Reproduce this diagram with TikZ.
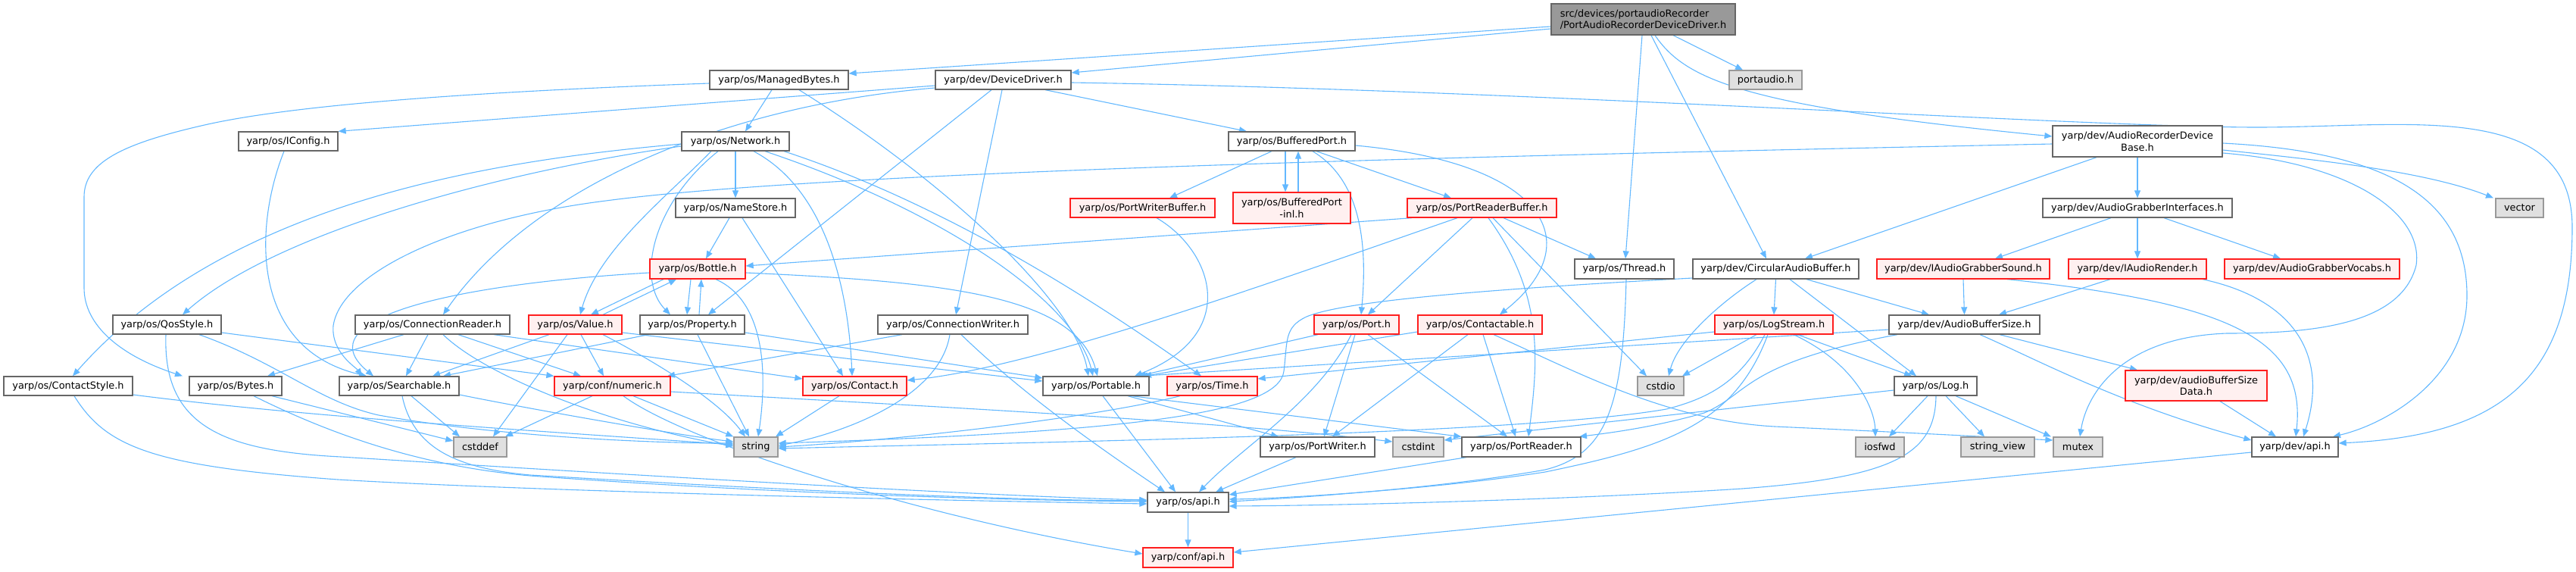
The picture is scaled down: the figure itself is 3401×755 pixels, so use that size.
\documentclass[tikz,border=0pt]{standalone}
\usepackage{fontspec}
\setmainfont{DejaVu Sans}
\usetikzlibrary{arrows.meta,calc}
\definecolor{edgec}{RGB}{99,184,255}
\definecolor{nodeb}{RGB}{102,102,102}
\definecolor{redb}{RGB}{255,30,30}
\definecolor{redfill}{RGB}{255,240,240}
\definecolor{grayb}{RGB}{153,153,153}
\definecolor{grayfill}{RGB}{224,224,224}
\definecolor{rootfill}{RGB}{153,153,153}
\pgfdeclarelayer{bg}
\pgfsetlayers{bg,main}
\newcommand\mknode[7]{\node[#6, minimum width={(#4-#2)*0.5pt}, minimum height={(#5-#3)*0.5pt}] (#1) at ({(#2+#4)/2},{(#3+#5)/2}) {#7};}
\tikzset{
  base/.style={rectangle, inner sep=0pt, line width=0.65pt, font=\fontsize{6.45pt}{7.8pt}\selectfont, align=center},
  nb/.style={base, draw=nodeb, fill=white},
  nr/.style={base, draw=redb, fill=redfill},
  ng/.style={base, draw=grayb, fill=grayfill},
  nroot/.style={base, draw=nodeb, fill=rootfill},
  e/.style={draw=edgec, line width=0.55pt, -{Triangle[length=5pt,width=4pt]}}
}
\begin{document}
\begin{tikzpicture}[x=0.5pt,y=-0.5pt]
\useasboundingbox (0,0) rectangle (3401,755);
% nodes
\mknode{root}{2048}{5}{2291}{46}{nroot,align=left}{src/devices/portaudioRecorder\\/PortAudioRecorderDeviceDriver.h}
\mknode{MB}{937}{93}{1120}{118}{nb}{yarp/os/ManagedBytes.h}
\mknode{DD}{1235}{93}{1414}{118}{nb}{yarp/dev/DeviceDriver.h}
\mknode{pa}{2283}{93}{2379}{118}{ng}{portaudio.h}
\mknode{IConfig}{315}{174}{446}{199}{nb}{yarp/os/IConfig.h}
\mknode{Net}{900}{174}{1042}{199}{nb}{yarp/os/Network.h}
\mknode{BP}{1622}{174}{1789}{199}{nb}{yarp/os/BufferedPort.h}
\mknode{ARDB}{2710}{166}{2934}{207}{nb}{yarp/dev/AudioRecorderDevice\\Base.h}
\mknode{NS}{892}{262}{1050}{287}{nb}{yarp/os/NameStore.h}
\mknode{PWB}{1413}{262}{1604}{287}{nr}{yarp/os/PortWriterBuffer.h}
\mknode{BPinl}{1628}{254}{1783}{295}{nr}{yarp/os/BufferedPort\\-inl.h}
\mknode{PRB}{1858}{262}{2055}{287}{nr}{yarp/os/PortReaderBuffer.h}
\mknode{AGI}{2697}{262}{2947}{287}{nb}{yarp/dev/AudioGrabberInterfaces.h}
\mknode{vec}{3295}{262}{3358}{287}{ng}{vector}
\mknode{Bottle}{858}{342}{984}{368}{nr}{yarp/os/Bottle.h}
\mknode{Thread}{2079}{342}{2210}{368}{nb}{yarp/os/Thread.h}
\mknode{CAB}{2235}{342}{2454}{368}{nb}{yarp/dev/CircularAudioBuffer.h}
\mknode{IAGS}{2478}{342}{2706}{368}{nr}{yarp/dev/IAudioGrabberSound.h}
\mknode{IAR}{2731}{342}{2913}{368}{nr}{yarp/dev/IAudioRender.h}
\mknode{AGV}{2937}{342}{3168}{368}{nr}{yarp/dev/AudioGrabberVocabs.h}
\mknode{Qos}{149}{416}{292}{441}{nb}{yarp/os/QosStyle.h}
\mknode{CR}{469}{416}{673}{441}{nb}{yarp/os/ConnectionReader.h}
\mknode{Value}{698}{416}{821}{441}{nr}{yarp/os/Value.h}
\mknode{Prop}{845}{416}{983}{441}{nb}{yarp/os/Property.h}
\mknode{CW}{1159}{416}{1357}{441}{nb}{yarp/os/ConnectionWriter.h}
\mknode{Port}{1735}{416}{1847}{441}{nr}{yarp/os/Port.h}
\mknode{Ctble}{1872}{416}{2036}{441}{nr}{yarp/os/Contactable.h}
\mknode{LS}{2264}{416}{2420}{441}{nr}{yarp/os/LogStream.h}
\mknode{ABS}{2494}{416}{2693}{441}{nb}{yarp/dev/AudioBufferSize.h}
\mknode{CS}{5}{497}{175}{522}{nb}{yarp/os/ContactStyle.h}
\mknode{Bytes}{250}{497}{372}{522}{nb}{yarp/os/Bytes.h}
\mknode{Search}{448}{497}{606}{522}{nb}{yarp/os/Searchable.h}
\mknode{num}{732}{497}{885}{522}{nr}{yarp/conf/numeric.h}
\mknode{Contact}{1060}{497}{1197}{522}{nr}{yarp/os/Contact.h}
\mknode{Portable}{1377}{497}{1517}{522}{nb}{yarp/os/Portable.h}
\mknode{Time}{1541}{497}{1660}{522}{nr}{yarp/os/Time.h}
\mknode{cstdio}{2162}{497}{2223}{522}{ng}{cstdio}
\mknode{Log}{2501}{497}{2610}{522}{nb}{yarp/os/Log.h}
\mknode{ABSD}{2806}{489}{2993}{529}{nr}{yarp/dev/audioBufferSize\\Data.h}
\mknode{cstddef}{599}{577}{669}{603}{ng}{cstddef}
\mknode{string}{969}{577}{1027}{603}{ng}{string}
\mknode{PW}{1664}{577}{1815}{603}{nb}{yarp/os/PortWriter.h}
\mknode{cstdint}{1839}{577}{1906}{603}{ng}{cstdint}
\mknode{PR}{1930}{577}{2087}{603}{nb}{yarp/os/PortReader.h}
\mknode{iosfwd}{2450}{577}{2514}{603}{ng}{iosfwd}
\mknode{sv}{2589}{577}{2686}{603}{ng}{string\_view}
\mknode{mutex}{2711}{577}{2776}{603}{ng}{mutex}
\mknode{devapi}{2973}{577}{3087}{603}{nb}{yarp/dev/api.h}
\mknode{osapi}{1515}{650}{1622}{676}{nb}{yarp/os/api.h}
\mknode{confapi}{1509}{723}{1628}{749}{nr}{yarp/conf/api.h}
\begin{pgfonlayer}{bg}
% root
\draw[e] (root.west |- 0,35) -- (MB.east |- 0,97);
\draw[e] (root.west |- 0,38) -- (DD.east |- 0,96);
\draw[e] (2209,0 |- root.south) -- (2301,0 |- pa.north);
\draw[e] (2168,0 |- root.south) -- (2146,0 |- Thread.north);
\draw[e] (2180,0 |- root.south) -- (2332,0 |- CAB.north);
\draw[e] (2185,0 |- root.south) .. controls (2225,105) and (2300,140) .. (ARDB.west |- 0,180);
% ManagedBytes
\draw[e] (1019,0 |- MB.south) -- (984,0 |- Net.north);
\draw[e] (MB.west |- 0,110) .. controls (600,122) and (380,140) .. (270,165) .. controls (160,190) and (111,215) .. (111,260) -- (111,380) .. controls (111,430) and (160,470) .. (241,0 |- Bytes.north);
\draw[e] (1055,0 |- MB.south) .. controls (1250,240) and (1420,400) .. (1437,0 |- Portable.north);
% DeviceDriver
\draw[e] (DD.west |- 0,113) -- (IConfig.north east);
\draw[e] (DD.west |- 0,116) .. controls (950,140) and (700,250) .. (585,0 |- CR.north);
\draw[e] (1309,0 |- DD.south) -- (935,0 |- Prop.north);
\draw[e] (1323,0 |- DD.south) -- (1262,0 |- CW.north);
\draw[e] (1380,0 |- DD.south) -- (1646,0 |- BP.north);
\draw[e] (DD.east |- 0,109) .. controls (2000,118) and (2750,168) .. (2980,168) .. controls (3180,168) and (3396,130) .. (3396,300) .. controls (3396,500) and (3300,575) .. (devapi.east |- 0,585);
% IConfig
\draw[e] (375,0 |- IConfig.south) .. controls (335,300) and (330,460) .. (484,0 |- Search.north);
% ARDB
\draw[e] (ARDB.west |- 0,190) .. controls (2000,205) and (1100,225) .. (800,265) .. controls (600,290) and (450,360) .. (440,430) .. controls (437,465) and (470,485) .. (478,0 |- Search.north);
\draw[e] (ARDB.south) -- (AGI.north);
\draw[e] (ARDB.east |- 0,198) .. controls (3050,210) and (3200,225) .. (3292,0 |- vec.north);
\draw[e] (2768,0 |- ARDB.south) -- (2383,0 |- CAB.north);
\draw[e] (ARDB.east |- 0,189) .. controls (3150,200) and (3257,260) .. (3257,390) .. controls (3257,500) and (3150,560) .. (3080,0 |- devapi.north);
\draw[e] (ARDB.east |- 0,202) .. controls (3100,215) and (3200,280) .. (3190,350) .. controls (3170,430) and (3050,440) .. (2940,440) .. controls (2800,445) and (2755,520) .. (2746,0 |- mutex.north);
% Network
\draw[e] (Net.west |- 0,190) .. controls (650,212) and (300,265) .. (96,0 |- CS.north);
\draw[e] (Net.west |- 0,193) .. controls (650,228) and (360,310) .. (241,0 |- Qos.north);
\draw[e] (939,0 |- Net.south) .. controls (880,260) and (790,330) .. (766,0 |- Value.north);
\draw[e] (948,0 |- Net.south) .. controls (860,270) and (840,370) .. (885,0 |- Prop.north);
\draw[e] (Net.south) -- (NS.north);
\draw[e] (995,0 |- Net.south) .. controls (1090,250) and (1120,380) .. (1125,0 |- Contact.north);
\draw[e] (1010,0 |- Net.south) .. controls (1250,280) and (1420,400) .. (1443,0 |- Portable.north);
\draw[e] (1035,0 |- Net.south) .. controls (1250,270) and (1450,400) .. (1586,0 |- Time.north);
% BufferedPort
\draw[e] (1679,0 |- BP.south) -- (1544,0 |- PWB.north);
\draw[e] (1697,0 |- BP.south) -- (1697,0 |- BPinl.north);
\draw[e] (1714,0 |- BPinl.north) -- (1714,0 |- BP.south);
\draw[e] (1738,0 |- BP.south) -- (1916,0 |- PRB.north);
\draw[e] (1733,0 |- BP.south) .. controls (1800,240) and (1805,330) .. (1797,0 |- Port.north);
\draw[e] (BP.east |- 0,192) .. controls (2040,215) and (2100,320) .. (1980,0 |- Ctble.north);
% NameStore
\draw[e] (963,0 |- NS.south) -- (932,0 |- Bottle.north);
\draw[e] (980,0 |- NS.south) -- (1113,0 |- Contact.north);
% PortWriterBuffer
\draw[e] (1527,0 |- PWB.south) .. controls (1600,330) and (1640,440) .. (1498,0 |- Portable.north);
% PortReaderBuffer
\draw[e] (1864,0 |- PRB.south) -- (Bottle.east |- 0,351);
\draw[e] (1924,0 |- PRB.south) .. controls (1700,365) and (1370,485) .. (Contact.east |- 0,502);
\draw[e] (1944,0 |- PRB.south) -- (1806,0 |- Port.north);
\draw[e] (1971,0 |- PRB.south) -- (2174,0 |- cstdio.north);
\draw[e] (1965,0 |- PRB.south) .. controls (2040,390) and (2030,480) .. (2018,0 |- PR.north);
\draw[e] (1985,0 |- PRB.south) -- (2107,0 |- Thread.north);
% AudioGrabberInterfaces
\draw[e] (2787,0 |- AGI.south) -- (2634,0 |- IAGS.north);
\draw[e] (AGI.south) -- (IAR.north);
\draw[e] (2857,0 |- AGI.south) -- (3011,0 |- AGV.north);
% Bottle
\draw[e] (876,0 |- Bottle.south) -- (780,0 |- Value.north);
\draw[e] (912,0 |- Bottle.south) -- (907,0 |- Prop.north);
\draw[e] (945,0 |- Bottle.south) .. controls (1005,395) and (1015,480) .. (1001,0 |- string.north);
\draw[e] (Bottle.east |- 0,360) .. controls (1250,372) and (1420,390) .. (1449,0 |- Portable.north);
\draw[e] (Bottle.west |- 0,360) .. controls (600,375) and (400,420) .. (493,0 |- Search.north);
% Thread
\draw[e] (2147,0 |- Thread.south) .. controls (2143,540) and (2120,600) .. (2040,620) .. controls (1900,645) and (1700,658) .. (osapi.east |- 0,662);
% CircularAudioBuffer
\draw[e] (CAB.south) -- (LS.north);
\draw[e] (2363,0 |- CAB.south) -- (2530,0 |- Log.north);
\draw[e] (2385,0 |- CAB.south) -- (2547,0 |- ABS.north);
\draw[e] (2319,0 |- CAB.south) .. controls (2270,400) and (2215,450) .. (2203,0 |- cstdio.north);
\draw[e] (CAB.west |- 0,367) .. controls (2000,380) and (1780,395) .. (1725,418) .. controls (1695,432) and (1700,450) .. (1695,490) .. controls (1688,545) and (1500,570) .. (string.east |- 0,585);
% IAudioGrabberSound / IAudioRender
\draw[e] (IAGS.south) -- (ABS.north);
\draw[e] (2650,0 |- IAGS.south) .. controls (2950,400) and (3045,450) .. (3031,0 |- devapi.north);
\draw[e] (2786,0 |- IAR.south) -- (2639,0 |- ABS.north);
\draw[e] (2908,0 |- IAR.south) .. controls (3030,395) and (3075,470) .. (3041,0 |- devapi.north);
% QosStyle
\draw[e] (219,0 |- Qos.south) .. controls (215,560) and (290,595) .. (450,603) .. controls (800,625) and (1300,655) .. (osapi.west |- 0,660);
\draw[e] (263,0 |- Qos.south) .. controls (370,480) and (420,530) .. (500,548) .. controls (650,575) and (850,585) .. (string.west |- 0,585);
\draw[e] (Qos.east |- 0,439) -- (num.north west);
% ConnectionReader
\draw[e] (533,0 |- CR.south) -- (353,0 |- Bytes.north);
\draw[e] (565,0 |- CR.south) -- (536,0 |- Search.north);
\draw[e] (605,0 |- CR.south) -- (767,0 |- num.north);
\draw[e] (652,0 |- CR.south) -- (Contact.west |- 0,500);
\draw[e] (585,0 |- CR.south) .. controls (640,495) and (800,560) .. (string.west |- 0,589);
% Value
\draw[e] (796,0 |- Value.north) -- (893,0 |- Bottle.south);
\draw[e] (767,0 |- Value.south) -- (797,0 |- num.north);
\draw[e] (796,0 |- Value.south) .. controls (870,480) and (950,530) .. (984,0 |- string.north);
\draw[e] (725,0 |- Value.south) -- (571,0 |- Search.north);
\draw[e] (749,0 |- Value.south) -- (651,0 |- cstddef.north);
\draw[e] (Value.east |- 0,439) -- (Portable.west |- 0,503);
% Property
\draw[e] (923,0 |- Prop.north) -- (926,0 |- Bottle.south);
\draw[e] (856,0 |- Prop.south) -- (585,0 |- Search.north);
\draw[e] (921,0 |- Prop.south) -- (989,0 |- string.north);
\draw[e] (Prop.east |- 0,439) -- (Portable.west |- 0,499);
% ConnectionWriter
\draw[e] (1191,0 |- CW.south) -- (881,0 |- num.north);
\draw[e] (1254,0 |- CW.south) .. controls (1240,530) and (1100,575) .. (string.east |- 0,588);
\draw[e] (1269,0 |- CW.south) .. controls (1350,520) and (1450,590) .. (1538,0 |- osapi.north);
% Port
\draw[e] (1740,0 |- Port.south) -- (1503,0 |- Portable.north);
\draw[e] (1784,0 |- Port.south) .. controls (1740,530) and (1640,590) .. (1583,0 |- osapi.north);
\draw[e] (1789,0 |- Port.south) -- (1748,0 |- PW.north);
\draw[e] (1806,0 |- Port.south) -- (1990,0 |- PR.north);
% Contactable
\draw[e] (Ctble.west |- 0,438) -- (1510,0 |- Portable.north);
\draw[e] (1938,0 |- Ctble.south) -- (1759,0 |- PW.north);
\draw[e] (1958,0 |- Ctble.south) -- (2001,0 |- PR.north);
\draw[e] (1972,0 |- Ctble.south) .. controls (2080,490) and (2200,555) .. (2343,563) .. controls (2500,570) and (2650,578) .. (mutex.west |- 0,581);
% LogStream
\draw[e] (LS.west |- 0,438) -- (Time.east |- 0,500);
\draw[e] (2319,0 |- LS.south) -- (2221,0 |- cstdio.north);
\draw[e] (2373,0 |- LS.south) -- (2524,0 |- Log.north);
\draw[e] (2368,0 |- LS.south) .. controls (2450,480) and (2475,540) .. (2476,0 |- iosfwd.north);
\draw[e] (2334,0 |- LS.south) .. controls (2290,560) and (2200,590) .. (2040,623) .. controls (1900,645) and (1700,658) .. (osapi.east |- 0,659);
\draw[e] (2330,0 |- LS.south) .. controls (2300,500) and (2260,525) .. (2200,540) .. controls (2000,575) and (1300,585) .. (string.east |- 0,592);
% AudioBufferSize
\draw[e] (ABS.west |- 0,435) -- (1505,0 |- Portable.north);
\draw[e] (2505,0 |- ABS.south) .. controls (2300,480) and (2310,520) .. (2250,545) .. controls (2180,565) and (2120,572) .. (2085,0 |- PR.north);
\draw[e] (2614,0 |- ABS.south) .. controls (2680,470) and (2800,535) .. (devapi.west |- 0,581);
\draw[e] (2640,0 |- ABS.south) -- (2822,0 |- ABSD.north);
% Log
\draw[e] (2545,0 |- Log.south) -- (2494,0 |- iosfwd.north);
\draw[e] (2569,0 |- Log.south) -- (2620,0 |- sv.north);
\draw[e] (2582,0 |- Log.south) -- (2708,0 |- mutex.north);
\draw[e] (2556,0 |- Log.south) .. controls (2555,600) and (2500,630) .. (2300,645) .. controls (2100,658) and (1800,667) .. (osapi.east |- 0,668);
\draw[e] (Log.west |- 0,515) -- (cstdint.east |- 0,581);
% audioBufferSizeData
\draw[e] (2931,0 |- ABSD.south) -- (3005,0 |- devapi.north);
% numeric
\draw[e] (836,0 |- num.south) -- (string.north west);
\draw[e] (823,0 |- num.south) .. controls (900,580) and (1200,680) .. (confapi.west |- 0,731);
\draw[e] (num.east |- 0,517) .. controls (1200,535) and (1600,555) .. (cstdint.west |- 0,583);
\draw[e] (782,0 |- num.south) -- (667,0 |- cstddef.north);
% Contact
\draw[e] (1108,0 |- Contact.south) -- (1024,0 |- string.north);
% Portable
\draw[e] (1456,0 |- Portable.south) -- (1552,0 |- osapi.north);
\draw[e] (1489,0 |- Portable.south) -- (1688,0 |- PW.north);
\draw[e] (1494,0 |- Portable.south) -- (PR.north west);
% Time
\draw[e] (1558,0 |- Time.south) .. controls (1450,550) and (1200,580) .. (string.east |- 0,590);
% ContactStyle
\draw[e] (98,0 |- CS.south) .. controls (140,590) and (200,615) .. (446,633) .. controls (700,648) and (1200,660) .. (osapi.west |- 0,665);
\draw[e] (CS.east |- 0,521) .. controls (400,550) and (700,568) .. (string.west |- 0,587);
% Bytes
\draw[e] (359,0 |- Bytes.south) -- (cstddef.west |- 0,582);
\draw[e] (335,0 |- Bytes.south) .. controls (430,570) and (550,615) .. (700,628) .. controls (1000,650) and (1300,660) .. (osapi.west |- 0,662);
% Searchable
\draw[e] (543,0 |- Search.south) -- (607,0 |- cstddef.north);
\draw[e] (531,0 |- Search.south) .. controls (545,590) and (600,618) .. (700,627) .. controls (1000,645) and (1300,660) .. (osapi.west |- 0,661);
\draw[e] (Search.east |- 0,521) .. controls (700,540) and (900,575) .. (string.west |- 0,583);
% writers, readers, api
\draw[e] (1711,0 |- PW.south) -- (1605,0 |- osapi.north);
\draw[e] (1936,0 |- PR.south) -- (osapi.east |- 0,653);
\draw[e] (osapi.south) -- (confapi.north);
\draw[e] (devapi.west |- 0,597) -- (confapi.east |- 0,729);
\end{pgfonlayer}
\end{tikzpicture}
\end{document}
